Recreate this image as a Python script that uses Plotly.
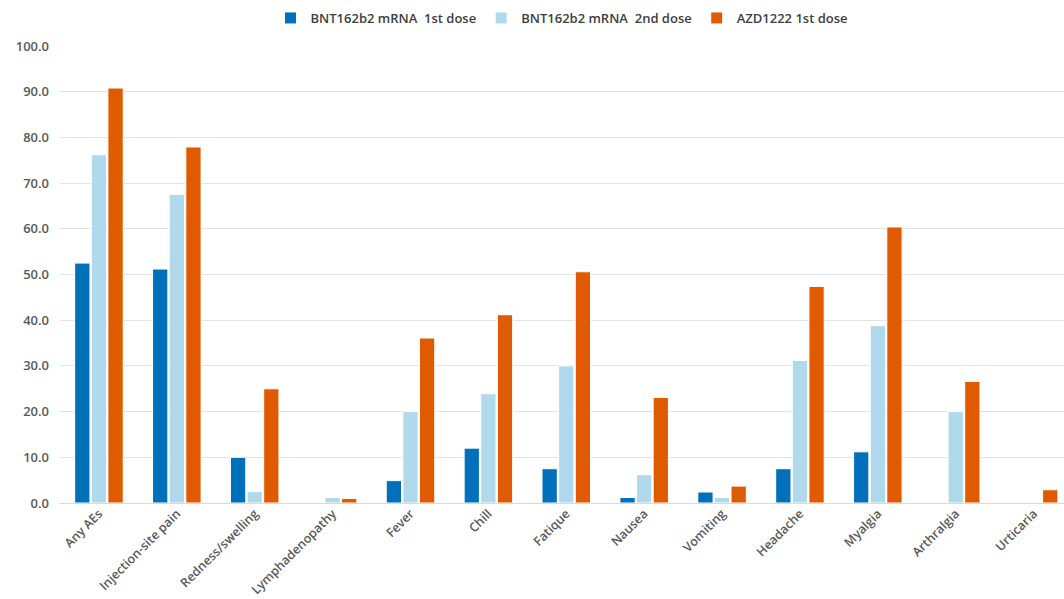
import plotly.graph_objects as go

categories = ["Any AEs", "Injection-site pain", "Redness/swelling", "Lymphadenopathy",
              "Fever", "Chill", "Fatique", "Nausea", "Vomiting", "Headache",
              "Myalgia", "Arthralgia", "Urticaria"]

bnt_dose1 = [52.5, 51.2, 10.0, 0.0, 4.9, 12.0, 7.5, 1.2, 2.4, 7.5, 11.2, 0.0, 0.0]
bnt_dose2 = [76.2, 67.5, 2.5, 1.2, 20.0, 23.9, 30.0, 6.2, 1.2, 31.2, 38.8, 20.0, 0.0]
azd_dose1 = [90.8, 77.9, 25.0, 1.0, 36.1, 41.2, 50.6, 23.1, 3.7, 47.4, 60.4, 26.6, 2.9]

series_names = ["BNT162b2 mRNA  1st dose", "BNT162b2 mRNA  2nd dose", "AZD1222 1st dose"]
series_colors = ["#0070BA", "#B1D9EE", "#E05A00"]

fig = go.Figure()
for name, vals, col in zip(series_names, [bnt_dose1, bnt_dose2, azd_dose1], series_colors):
    fig.add_trace(go.Bar(
        x=categories, y=vals, name=name,
        marker=dict(color=col, line=dict(color="white", width=1)),
    ))

fig.update_layout(
    width=1064, height=599,
    margin=dict(l=60, r=0, t=46, b=96),
    paper_bgcolor="white", plot_bgcolor="white",
    barmode="group", bargap=0.36, bargroupgap=0.08,
    font=dict(family="Open Sans, Noto Sans, sans-serif", color="#595959", size=12, weight=600),
    legend=dict(orientation="h", x=0.5, xanchor="center", y=0.995, yanchor="top",
                yref="container", font=dict(size=13, color="#404040", weight=600),
                itemwidth=30, traceorder="normal"),
    xaxis=dict(range=[-0.5, 12.39], tickangle=-45, showgrid=False,
               showline=False, ticks="",
               tickfont=dict(size=12.5, color="#595959", weight=600)),
    yaxis=dict(range=[0, 100], dtick=10, tickformat=".1f", showgrid=True,
               gridcolor="#E3E3E3", gridwidth=1, zeroline=True, zerolinecolor="#D9D9D9",
               zerolinewidth=1, ticks="",
               tickfont=dict(size=13, color="#595959", weight=600),
               ticklabelstandoff=10),
)

fig.write_html("out.html")
